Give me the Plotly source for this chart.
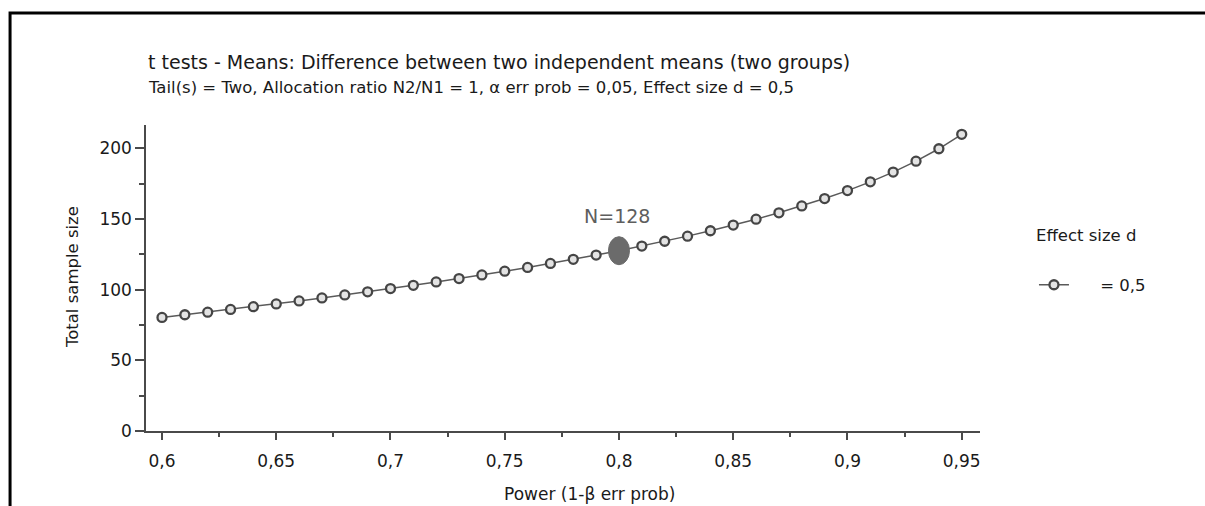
import plotly.graph_objects as go

# Data
power = [0.60, 0.61, 0.62, 0.63, 0.64, 0.65, 0.66, 0.67, 0.68, 0.69,
         0.70, 0.71, 0.72, 0.73, 0.74, 0.75, 0.76, 0.77, 0.78, 0.79,
         0.80, 0.81, 0.82, 0.83, 0.84, 0.85, 0.86, 0.87, 0.88, 0.89,
         0.90, 0.91, 0.92, 0.93, 0.94, 0.95]
total_n = [80.3, 82.2, 84.0, 86.0, 87.9, 89.9, 92.0, 94.1, 96.2, 98.4,
           100.7, 103.0, 105.4, 107.8, 110.4, 113.0, 115.7, 118.5, 121.4, 124.4,
           127.5, 130.8, 134.2, 137.8, 141.6, 145.6, 149.8, 154.3, 159.2, 164.4,
           170.0, 176.2, 183.1, 190.8, 199.6, 209.8]
highlight_power = 0.80
highlight_n = 127.5
highlight_label = "N=128"
legend_title = "Effect size d"
series_name = "\u00a0\u00a0\u00a0\u00a0\u00a0= 0,5"

x_tick_vals = [0.6, 0.65, 0.7, 0.75, 0.8, 0.85, 0.9, 0.95]
x_tick_text = ["0,6", "0,65", "0,7", "0,75", "0,8", "0,85", "0,9", "0,95"]
y_tick_vals = [0, 50, 100, 150, 200]
y_tick_text = ["0", "50", "100", "150", "200"]

title_text = "t tests - Means: Difference between two independent means (two groups)"
subtitle_text = "Tail(s) = Two, Allocation ratio N2/N1 = 1, α err prob = 0,05, Effect size d = 0,5"

FONT = "DejaVu Sans, sans-serif"
AX = "#4a4a4a"
TXT = "#1a1a1a"

fig = go.Figure()
fig.add_trace(go.Scatter(
    x=power, y=total_n, mode="lines+markers", name=series_name,
    line=dict(color="#5a5a5a", width=1.5),
    marker=dict(symbol="circle", size=9, color="#e3e3e3",
                line=dict(color="#454545", width=2.3)),
))

# highlighted point as a pixel-sized ellipse anchored at the data point
fig.add_shape(type="circle", xref="x", yref="y",
              xsizemode="pixel", ysizemode="pixel",
              xanchor=highlight_power, yanchor=highlight_n,
              x0=-10.5, x1=10.5, y0=-14, y1=14,
              fillcolor="#6b6b6b", line=dict(color="#6b6b6b", width=1))
fig.add_annotation(x=highlight_power, y=highlight_n, xref="x", yref="y",
                   text=highlight_label, showarrow=False, yshift=35, xshift=-2,
                   font=dict(family=FONT, size=19, color="#5e5e5e"))

# outer frame
fig.add_shape(type="rect", xref="paper", yref="paper",
              x0=-0.163, x1=1.28, y0=-0.3, y1=1.366,
              line=dict(color="black", width=3), fillcolor="rgba(0,0,0,0)",
              layer="above")

# titles
fig.add_annotation(xref="paper", yref="paper", x=0.0, y=1.206, xanchor="left",
                   yanchor="middle", showarrow=False, text=title_text,
                   font=dict(family=FONT, size=19, color=TXT))
fig.add_annotation(xref="paper", yref="paper", x=0.0, y=1.121, xanchor="left",
                   yanchor="middle", showarrow=False, text=subtitle_text,
                   font=dict(family=FONT, size=16.5, color=TXT))
fig.add_annotation(xref="paper", yref="paper", x=-0.0887, y=0.503, textangle=-90,
                   xanchor="center", yanchor="middle", showarrow=False,
                   text="Total sample size",
                   font=dict(family=FONT, size=16.5, color=TXT))
fig.add_annotation(xref="paper", yref="paper", x=0.532, y=-0.206,
                   xanchor="center", yanchor="middle", showarrow=False,
                   text="Power (1-β err prob)",
                   font=dict(family=FONT, size=17, color=TXT))
# legend heading
fig.add_annotation(xref="paper", yref="paper", x=1.0647, y=0.6405,
                   xanchor="left", yanchor="middle", showarrow=False,
                   text=legend_title,
                   font=dict(family=FONT, size=16.5, color=TXT))

fig.update_layout(
    width=1205, height=506,
    margin=dict(l=146, r=225, t=125, b=75),
    paper_bgcolor="white", plot_bgcolor="white",
    font=dict(family=FONT, size=16, color=TXT),
    showlegend=True,
    legend=dict(
        x=1.0647, y=0.477, xanchor="left", yanchor="middle",
        font=dict(family=FONT, size=16.5, color=TXT),
        bgcolor="rgba(0,0,0,0)",
    ),
    xaxis=dict(
        range=[0.593, 0.958], showgrid=False, zeroline=False,
        showline=True, linecolor=AX, linewidth=1.5,
        ticks="outside", ticklen=7, tickcolor=AX, tickwidth=1.5,
        tickvals=x_tick_vals, ticktext=x_tick_text, ticklabelstandoff=7,
        minor=dict(ticks="outside", ticklen=4, tickcolor=AX, tickwidth=1.5, dtick=0.025),
        tickfont=dict(family=FONT, size=17, color=TXT),
    ),
    yaxis=dict(
        range=[0, 216.4], showgrid=False, zeroline=False,
        showline=True, linecolor=AX, linewidth=1.5,
        ticks="outside", ticklen=9, tickcolor=AX, tickwidth=1.5,
        tickvals=y_tick_vals, ticktext=y_tick_text,
        minor=dict(ticks="outside", ticklen=5, tickcolor=AX, tickwidth=1.5, dtick=25),
        tickfont=dict(family=FONT, size=17, color=TXT),
    ),
)

fig.write_html("out.html", config={"displayModeBar": False},
               post_script="document.body.style.margin='0';")
